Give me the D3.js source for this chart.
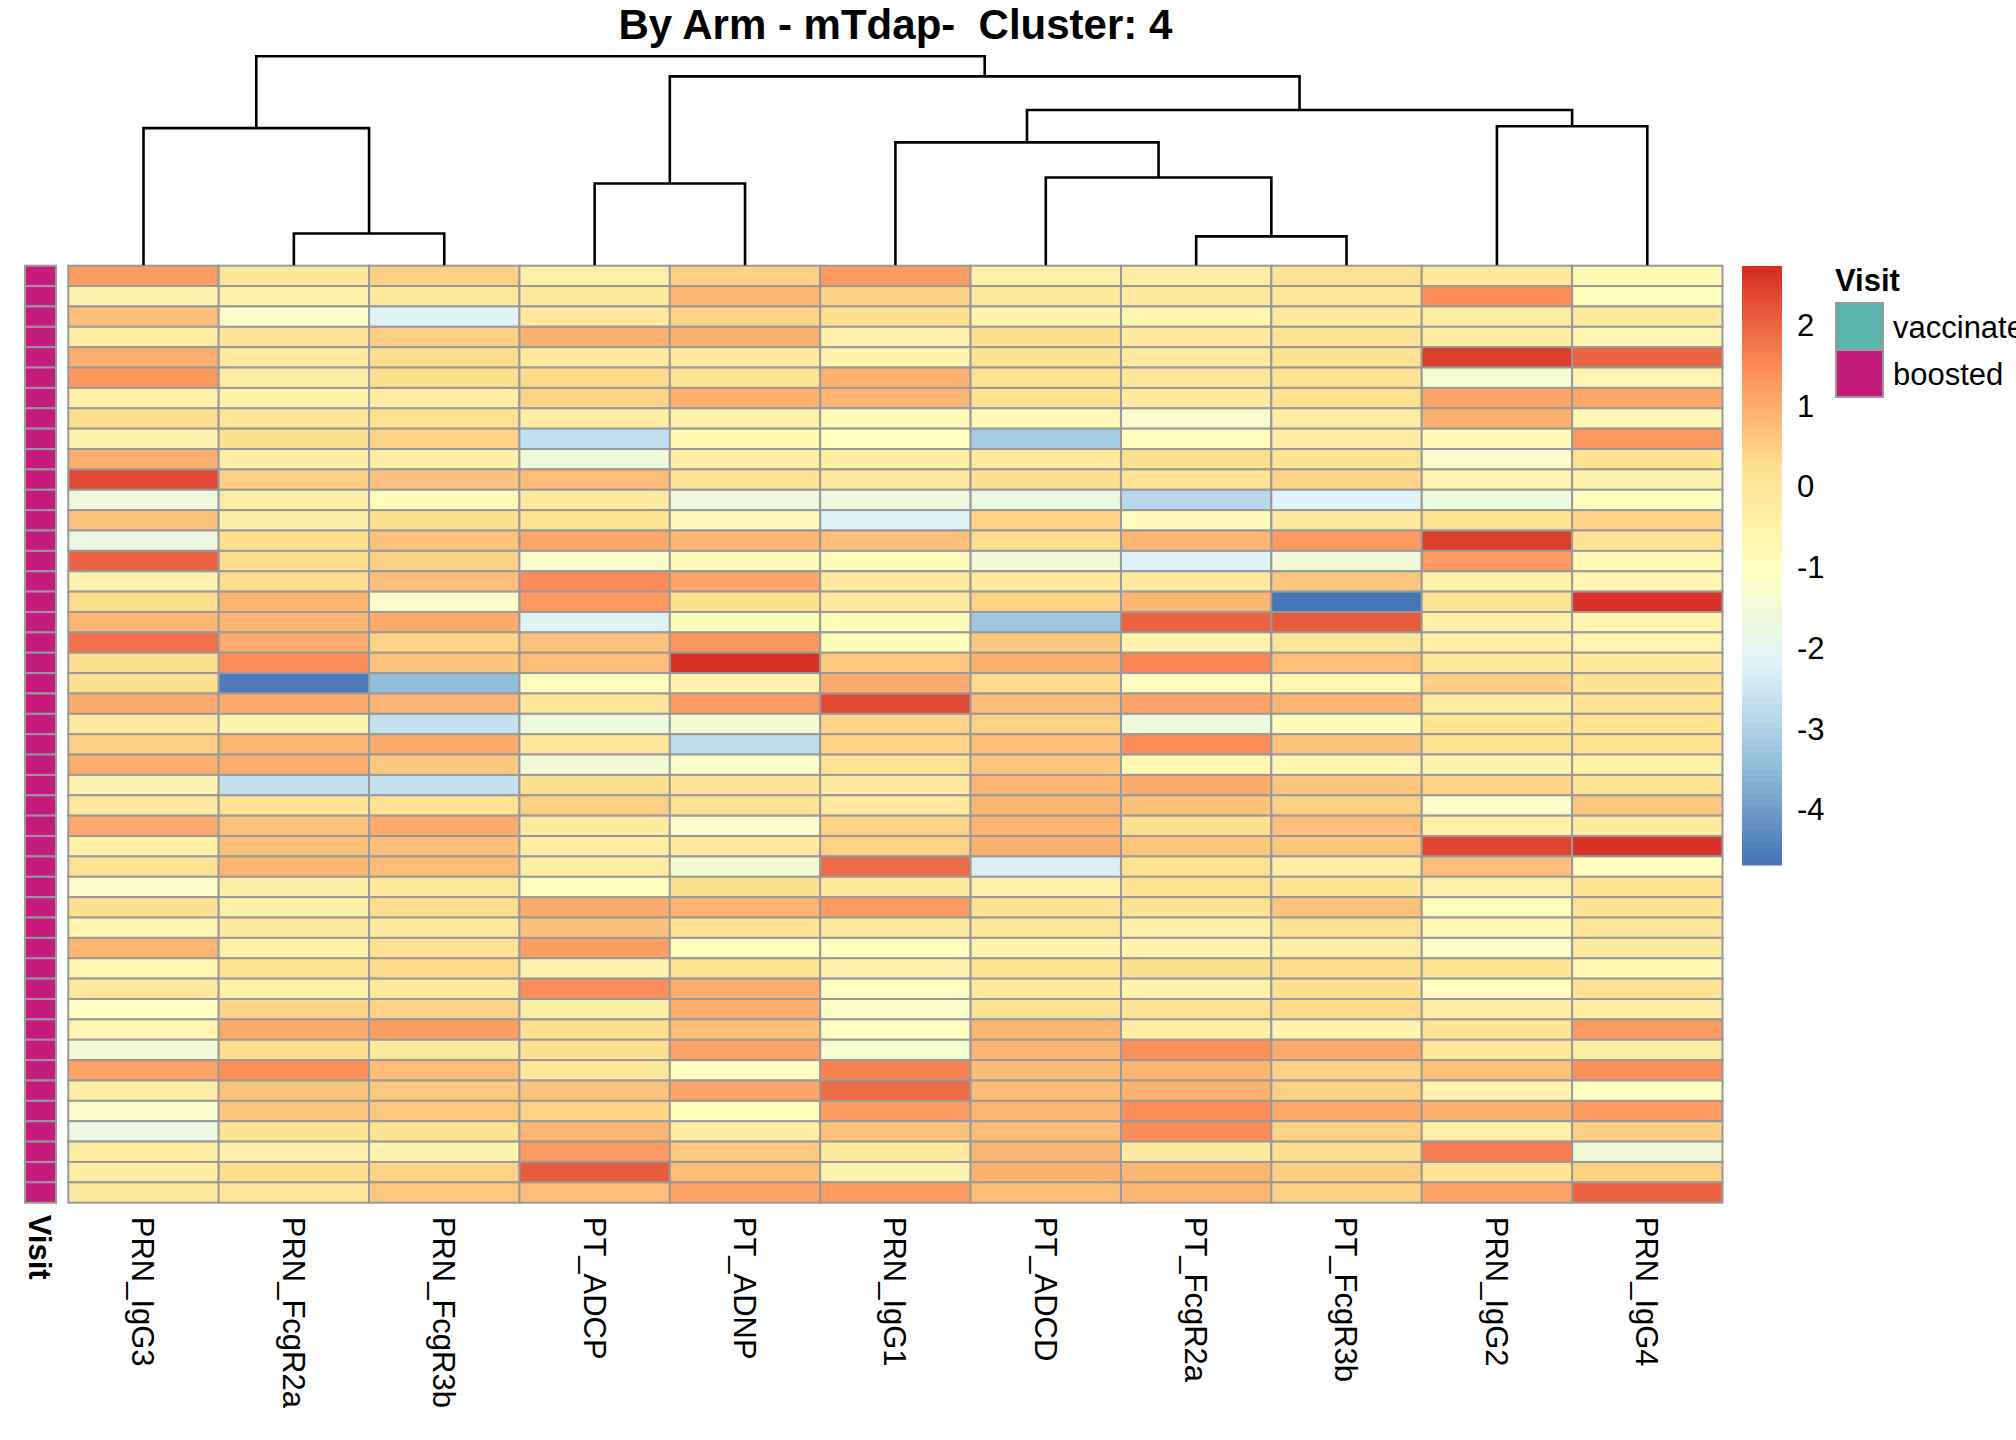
<!DOCTYPE html>
<html>
<head>
<meta charset="utf-8">
<script src="https://cdn.jsdelivr.net/npm/d3@7"></script>
<style>
  body { margin: 0; background: #fff; }
  text { font-family: "Liberation Sans", Arial, sans-serif; }
</style>
</head>
<body>
<div id="chart"></div>
<script>
// column order as it comes out of the clustering
const features = ["PRN_IgG3", "PRN_FcgR2a", "PRN_FcgR3b", "PT_ADCP", "PT_ADNP", "PRN_IgG1",
                  "PT_ADCD", "PT_FcgR2a", "PT_FcgR3b", "PRN_IgG2", "PRN_IgG4"];

// scaled values per feature, 46 samples each (top to bottom)
const PRN_IgG3 = [1.25, -0.55, 0.75, -0.25, 1.0, 1.35, -0.45, 0.25, -0.55, 1.0, 2.4, -1.6, 0.7, -1.75, 2.05, -0.55, 0.3, 0.9, 1.9, 0.25, 0.25, 1.05, -0.1,
                  0.5, 1.0, -0.55, -0.1, 1.05, -0.4, 0.15, -1.2, 0.25, -0.6, 0.9, -0.6, -0.1, -0.95, -0.6, -1.45, 1.15, -0.25, -1.2, -1.75, -0.25, -0.25, -0.1];
const PRN_FcgR2a = [0.0, -0.4, -1.2, 0.15, -0.1, -0.3, -0.45, 0.05, 0.25, -0.3, 0.5, -0.3, -0.3, 0.25, 0.3, 0.3, 0.9, 0.9, 1.05, 1.5, -4.6, 1.05, -0.55,
                    0.9, 1.0, -2.7, 0.15, 0.7, 0.7, 0.9, -0.3, -0.4, -0.1, -0.4, 0.15, -0.4, 0.45, 1.05, 0.3, 1.45, 0.7, 0.65, 0.15, -0.4, 0.3, 0.0];
const PRN_FcgR3b = [0.5, -0.1, -2.2, 0.5, 0.3, 0.3, -0.3, 0.2, 0.45, -0.3, 0.7, -0.85, 0.25, 0.7, 0.5, 0.75, -1.2, 1.05, 0.45, 0.7, -3.45, 0.9, -2.65,
                    1.05, 0.6, -2.65, 0.15, 1.05, 0.75, 0.8, -0.1, 0.3, -0.1, 0.2, 0.35, -0.1, 0.45, 1.25, -0.1, 0.8, 0.6, 0.6, 0.15, -0.5, 0.45, 0.6];
const PT_ADCP = [-0.4, -0.1, -0.1, 0.95, -0.1, 0.35, 0.45, -0.25, -2.7, -1.6, 0.8, -0.1, 0.15, 1.1, -1.2, 1.5, 1.3, -2.2, 0.7, 0.8, -0.95, 0.0, -1.6,
                 0.0, -1.45, 0.25, 0.5, -0.1, -0.25, -0.25, -0.9, 1.05, 0.7, 1.25, -0.5, 1.5, -0.3, 0.25, 0.25, 0.0, 0.7, 0.45, 0.9, 1.3, 2.15, 0.8];
const PT_ADNP = [0.5, 0.9, 0.45, 0.95, -0.1, 0.15, 0.95, -0.4, -0.65, -0.25, 0.15, -1.65, -0.8, 0.9, -0.75, 1.15, 0.25, -0.85, 1.35, 2.73, -0.5, 1.3, -1.4,
                 -2.75, -1.2, 0.15, 0.2, -1.2, -0.1, -1.4, 0.25, 0.9, 0.15, -0.95, 0.15, 1.0, 1.0, 0.75, 1.15, -1.0, 1.15, -0.9, -0.25, 0.6, 0.8, 1.15];
const PRN_IgG1 = [1.3, 0.5, 0.25, -0.4, -0.5, 0.95, 0.9, -0.8, -1.0, -0.25, -0.1, -1.6, -2.2, 0.75, -0.85, -0.1, -0.1, -0.85, -0.85, 0.6, 1.05, 2.4, 0.45,
                  0.45, 0.15, -0.1, -0.1, 0.45, 0.45, 1.95, -0.1, 1.3, -0.1, -0.95, -0.5, -1.05, -1.2, -0.95, -1.3, 1.65, 1.95, 1.25, 0.7, -0.1, -0.55, 1.3];
const PT_ADCD = [-0.4, -0.1, -0.5, 0.25, 0.2, 0.2, 0.15, -0.8, -3.15, -0.1, 0.25, -1.7, 0.45, 0.3, -1.45, -0.1, 0.45, -3.25, 0.6, 0.95, 0.35, 0.8, 0.45,
                 0.8, 0.65, 0.9, 0.9, 0.9, 0.95, -2.3, -0.4, 0.15, 0.05, -0.5, 0.15, -0.1, 0.15, 0.9, 0.9, 0.8, 0.8, 0.9, 0.8, 0.9, 0.95, 0.8];
const PT_FcgR2a = [-0.25, -0.1, -0.6, -0.1, -0.1, 0.0, -0.1, -1.25, -0.9, 0.25, 0.2, -2.85, -0.85, 0.9, -2.25, -0.1, 0.9, 2.05, -0.5, 1.6, -0.95, 1.15, -1.6,
                   1.5, -0.65, 1.05, 0.7, 0.25, 0.65, 0.15, 0.15, 0.15, -0.4, -0.5, 0.25, -0.5, 0.15, -0.3, 1.45, 0.9, 0.95, 1.5, 1.5, -0.1, 0.9, 0.9];
const PT_FcgR3b = [0.2, 0.0, -0.1, 0.2, 0.2, 0.2, 0.2, -0.25, -0.25, 0.15, 0.45, -2.2, -0.1, 1.3, -1.45, 0.65, -4.69, 2.15, 0.0, 0.75, -0.65, 0.9, -0.9,
                   0.7, -0.6, 0.65, 0.5, 0.75, 0.65, -0.3, 0.15, 0.7, 0.15, -0.25, 0.3, 0.25, 0.35, -0.5, 1.05, 0.45, 0.5, 1.05, 0.45, 0.25, 0.5, 0.5];
const PRN_IgG2 = [0.0, 1.5, -0.25, -0.25, 2.55, -1.3, 1.15, 0.95, -0.8, -1.2, -0.6, -1.6, 0.15, 2.55, 1.3, -0.45, 0.15, -0.4, -0.4, -0.1, 0.5, -0.3, 0.15,
                  0.15, -0.5, 0.45, -1.2, -0.4, 2.45, 0.75, -0.4, -0.9, -0.65, -1.2, 0.15, -0.95, -0.25, 0.15, 0.0, 0.7, -0.5, 0.95, -0.4, 1.7, 0.15, 1.15];
const PRN_IgG4 = [-0.75, -0.9, -0.1, -0.6, 2.05, -0.6, 1.1, -0.7, 1.35, 0.15, -0.5, -0.95, 0.45, 0.15, -0.65, -0.6, 2.7, -0.6, -0.6, -0.1, 0.15, 0.15, 0.15,
                  0.2, -0.45, 0.15, 0.6, -0.1, 2.7, -0.95, 0.15, 0.15, 0.05, -0.1, -0.65, 0.15, -0.25, 1.3, -0.3, 1.45, -0.95, 1.3, 0.5, -1.55, 0.5, 2.05];

// column dendrogram: merges with their heights (arbitrary distance units)
const merges = [
    { id: "m1", left: "PRN_FcgR2a", right: "PRN_FcgR3b", h: 1.52 },
    { id: "m2", left: "PRN_IgG3", right: "m1", h: 6.56 },
    { id: "m3", left: "PT_ADCP", right: "PT_ADNP", h: 3.91 },
    { id: "m4", left: "PT_FcgR2a", right: "PT_FcgR3b", h: 1.38 },
    { id: "m5", left: "PT_ADCD", right: "m4", h: 4.20 },
    { id: "m6", left: "PRN_IgG1", right: "m5", h: 5.88 },
    { id: "m7", left: "PRN_IgG2", right: "PRN_IgG4", h: 6.65 },
    { id: "m8", left: "m6", right: "m7", h: 7.43 },
    { id: "m9", left: "m3", right: "m8", h: 9.04 },
    { id: "m10", left: "m2", right: "m9", h: 10.0 }
];

// annotation
const visitLevels = ["vaccinated", "boosted"];
const visitColors = ["#5AB4AC", "#C51B7D"];
const sampleVisit = Array.from({ length: PRN_IgG3.length }, () => "boosted");

const paletteColors = ["#4575B4", "#91BFDB", "#E0F3F8", "#FFFFBF", "#FEE090", "#FC8D59", "#D73027"];
const legendTicks = [2, 1, 0, -1, -2, -3, -4];

const title = "By Arm - mTdap-  Cluster: 4";

const columns = { PRN_IgG3, PRN_FcgR2a, PRN_FcgR3b, PT_ADCP, PT_ADNP, PRN_IgG1, PT_ADCD, PT_FcgR2a, PT_FcgR3b, PRN_IgG2, PRN_IgG4 };

const W = 2016, H = 1440;
const hm = { left: 68.3, right: 1722.5, top: 265.7, bottom: 1202.7 };
const border = "#999999";
const fontSize = 31;

const rows = d3.range(PRN_IgG3.length).map(i => "S" + (i + 1));
let cells = [];
features.forEach(f => {
    columns[f].forEach((v, i) => cells.push({ feature: f, row: rows[i], value: v }));
});

const svg = d3.select("#chart")
    .append("svg")
    .attr("width", W)
    .attr("height", H);

const x = d3.scaleBand()
    .domain(features)
    .range([hm.left, hm.right]);

const y = d3.scaleBand()
    .domain(rows)
    .range([hm.top, hm.bottom]);

const ext = d3.extent(cells, d => d.value);
const color = d3.scaleLinear()
    .domain(d3.range(paletteColors.length).map(i => ext[0] + (ext[1] - ext[0]) * i / (paletteColors.length - 1)))
    .range(paletteColors)
    .interpolate(d3.interpolateRgb);

// Title
svg.append("text")
    .attr("x", (hm.left + hm.right) / 2)
    .attr("y", 39)
    .attr("text-anchor", "middle")
    .style("font-size", "42px")
    .style("font-weight", "bold")
    .style("white-space", "pre")
    .text(title);

// Heatmap cells
svg.append("g")
    .selectAll("rect")
    .data(cells)
    .join("rect")
    .attr("x", d => x(d.feature))
    .attr("y", d => y(d.row))
    .attr("width", x.bandwidth())
    .attr("height", y.bandwidth())
    .attr("fill", d => color(d.value))
    .attr("stroke", border)
    .attr("stroke-width", 2);

// Annotation column
const visitColor = d3.scaleOrdinal().domain(visitLevels).range(visitColors);
svg.append("g")
    .selectAll("rect")
    .data(rows)
    .join("rect")
    .attr("x", 25)
    .attr("y", d => y(d))
    .attr("width", 31)
    .attr("height", y.bandwidth())
    .attr("fill", (d, i) => visitColor(sampleVisit[i]))
    .attr("stroke", border)
    .attr("stroke-width", 2);

// Column labels, rotated
const capH = fontSize * 0.716;
svg.append("g")
    .selectAll("text")
    .data(features)
    .join("text")
    .attr("transform", d => "translate(" + (x(d) + x.bandwidth() / 2 - capH / 2) + "," + (hm.bottom + 14) + ") rotate(90)")
    .style("font-size", fontSize + "px")
    .text(d => d);

svg.append("text")
    .attr("transform", "translate(" + (40.5 - capH / 2) + "," + (hm.bottom + 12) + ") rotate(90)")
    .style("font-size", fontSize + "px")
    .style("font-weight", "bold")
    .text("Visit");

// Dendrogram
const hy = d3.scaleLinear()
    .domain([0, d3.max(merges, d => d.h)])
    .range([hm.top - 0.5, 56.3]);

const nodes = {};
features.forEach(f => nodes[f] = { x: x(f) + x.bandwidth() / 2, h: 0 });
const tree = svg.append("g")
    .attr("fill", "none")
    .attr("stroke", "#000")
    .attr("stroke-width", 2.6);
merges.forEach(m => {
    const a = nodes[m.left], b = nodes[m.right];
    tree.append("path")
        .attr("d", d3.line()([[a.x, hy(a.h)], [a.x, hy(m.h)], [b.x, hy(m.h)], [b.x, hy(b.h)]]));
    nodes[m.id] = { x: (a.x + b.x) / 2, h: m.h };
});

// Colour legend
const lg = { x: 1742, w: 40, top: 266, bottom: 865 };
const ly = d3.scaleLinear().domain(ext).range([lg.bottom, lg.top]);
const nSteps = 100;
const stepVals = d3.range(nSteps).map(i => ext[0] + (ext[1] - ext[0]) * i / (nSteps - 1));
svg.append("g")
    .selectAll("rect")
    .data(stepVals)
    .join("rect")
    .attr("x", lg.x)
    .attr("width", lg.w)
    .attr("y", (d, i) => lg.bottom - (i + 1) * (lg.bottom - lg.top) / nSteps)
    .attr("height", (lg.bottom - lg.top) / nSteps + 0.5)
    .attr("fill", d => color(d));

svg.append("g")
    .selectAll("text")
    .data(legendTicks)
    .join("text")
    .attr("x", 1797)
    .attr("y", d => ly(d) + capH / 2)
    .style("font-size", fontSize + "px")
    .text(d => d);

// Annotation legend
const al = { x: 1836, top: 303, size: 47 };
svg.append("text")
    .attr("x", 1835)
    .attr("y", 291)
    .style("font-size", fontSize + "px")
    .style("font-weight", "bold")
    .text("Visit");

svg.append("g")
    .selectAll("rect")
    .data(visitLevels)
    .join("rect")
    .attr("x", al.x)
    .attr("y", (d, i) => al.top + i * al.size)
    .attr("width", al.size)
    .attr("height", al.size)
    .attr("fill", d => visitColor(d))
    .attr("stroke", border)
    .attr("stroke-width", 2);

svg.append("g")
    .selectAll("text")
    .data(visitLevels)
    .join("text")
    .attr("x", 1893)
    .attr("y", (d, i) => al.top + i * al.size + al.size / 2 + capH / 2)
    .style("font-size", fontSize + "px")
    .text(d => d);
</script>
</body>
</html>
